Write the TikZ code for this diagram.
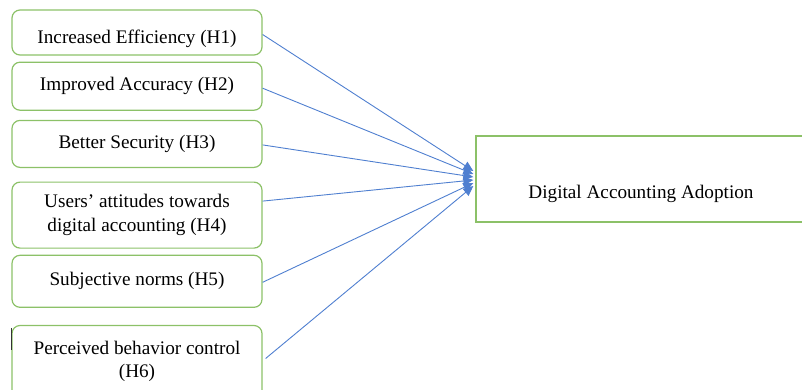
\documentclass[tikz,border=0pt]{standalone}
\usepackage{fontspec}
\setmainfont{Liberation Serif}
\usetikzlibrary{positioning,arrows.meta}
\definecolor{boxgreen}{HTML}{8CC168}
\definecolor{linkblue}{HTML}{4F7FD0}
\tikzset{factor node/.style={rectangle,rounded corners=8pt,draw=boxgreen,line width=1.2pt,minimum width=250pt,align=center,inner sep=0pt,font=\fontsize{19.2}{23.5}\selectfont},
            outcome node/.style={rectangle,draw=boxgreen,line width=1.4pt,minimum width=330pt,minimum height=86pt,inner sep=0pt},
            link/.style={draw=linkblue,line width=0.9pt,-{Triangle[length=10pt,width=9pt]}},
            }

\begin{document}
\begin{tikzpicture}[x=1pt,y=-1pt]
    \useasboundingbox (0,0) rectangle (802,389);
    \node[factor node,minimum height=45pt,text height=26pt,text depth=4pt] (1) at (137,32.5) {Increased Efficiency (H1)};
    \node[factor node,minimum height=48pt] (2) [below =6pt of 1]  {Improved Accuracy (H2)};
    \node[factor node,minimum height=47pt] (3) [below =9pt of 2] {Better Security (H3)};
    \node[factor node,minimum height=66pt] (4) [below =13.5pt of 3] {Users' attitudes towards\\digital accounting (H4)};
    \node[factor node,minimum height=52pt] (5) [below =6pt of 4]  {Subjective norms (H5)};
    \node[factor node,minimum height=72pt] (6) [below =17pt of 5] {Perceived behavior control\\(H6)};
    \node[outcome node] (7) at (641,179) {};
    \node[font=\fontsize{19.2}{23}\selectfont] (7t) at ([yshift=-15pt]7.center) {Digital Accounting Adoption};
    \draw[black!80,line width=1.2pt] ([yshift=-3pt]6.north west) -- ([yshift=-25pt]6.north west);

    \coordinate (t1) at ([xshift=-2pt,yshift=8pt]7.west);
    \coordinate (t2) at ([xshift=-2pt,yshift=5pt]7.west);
    \coordinate (t3) at ([xshift=-2pt,yshift=2pt]7.west);
    \coordinate (t4) at ([xshift=-2pt,yshift=-1pt]7.west);
    \coordinate (t5) at ([xshift=-2pt,yshift=-4pt]7.west);
    \coordinate (t6) at ([xshift=-2pt,yshift=-7pt]7.west);

    \path
    ([yshift=-2pt]1.east) edge[link] (t1)
    ([yshift=-2pt]2.east) edge[link] (t2)
    ([yshift=-1pt]3.east) edge[link] (t3)
    ([yshift=14pt]4.east) edge[link] (t4)
    ([yshift=-1pt]5.east) edge[link] (t5)
    ([xshift=3pt,yshift=3pt]6.east) edge[link] (t6)
    ;
    %%
\end{tikzpicture}
\end{document}
